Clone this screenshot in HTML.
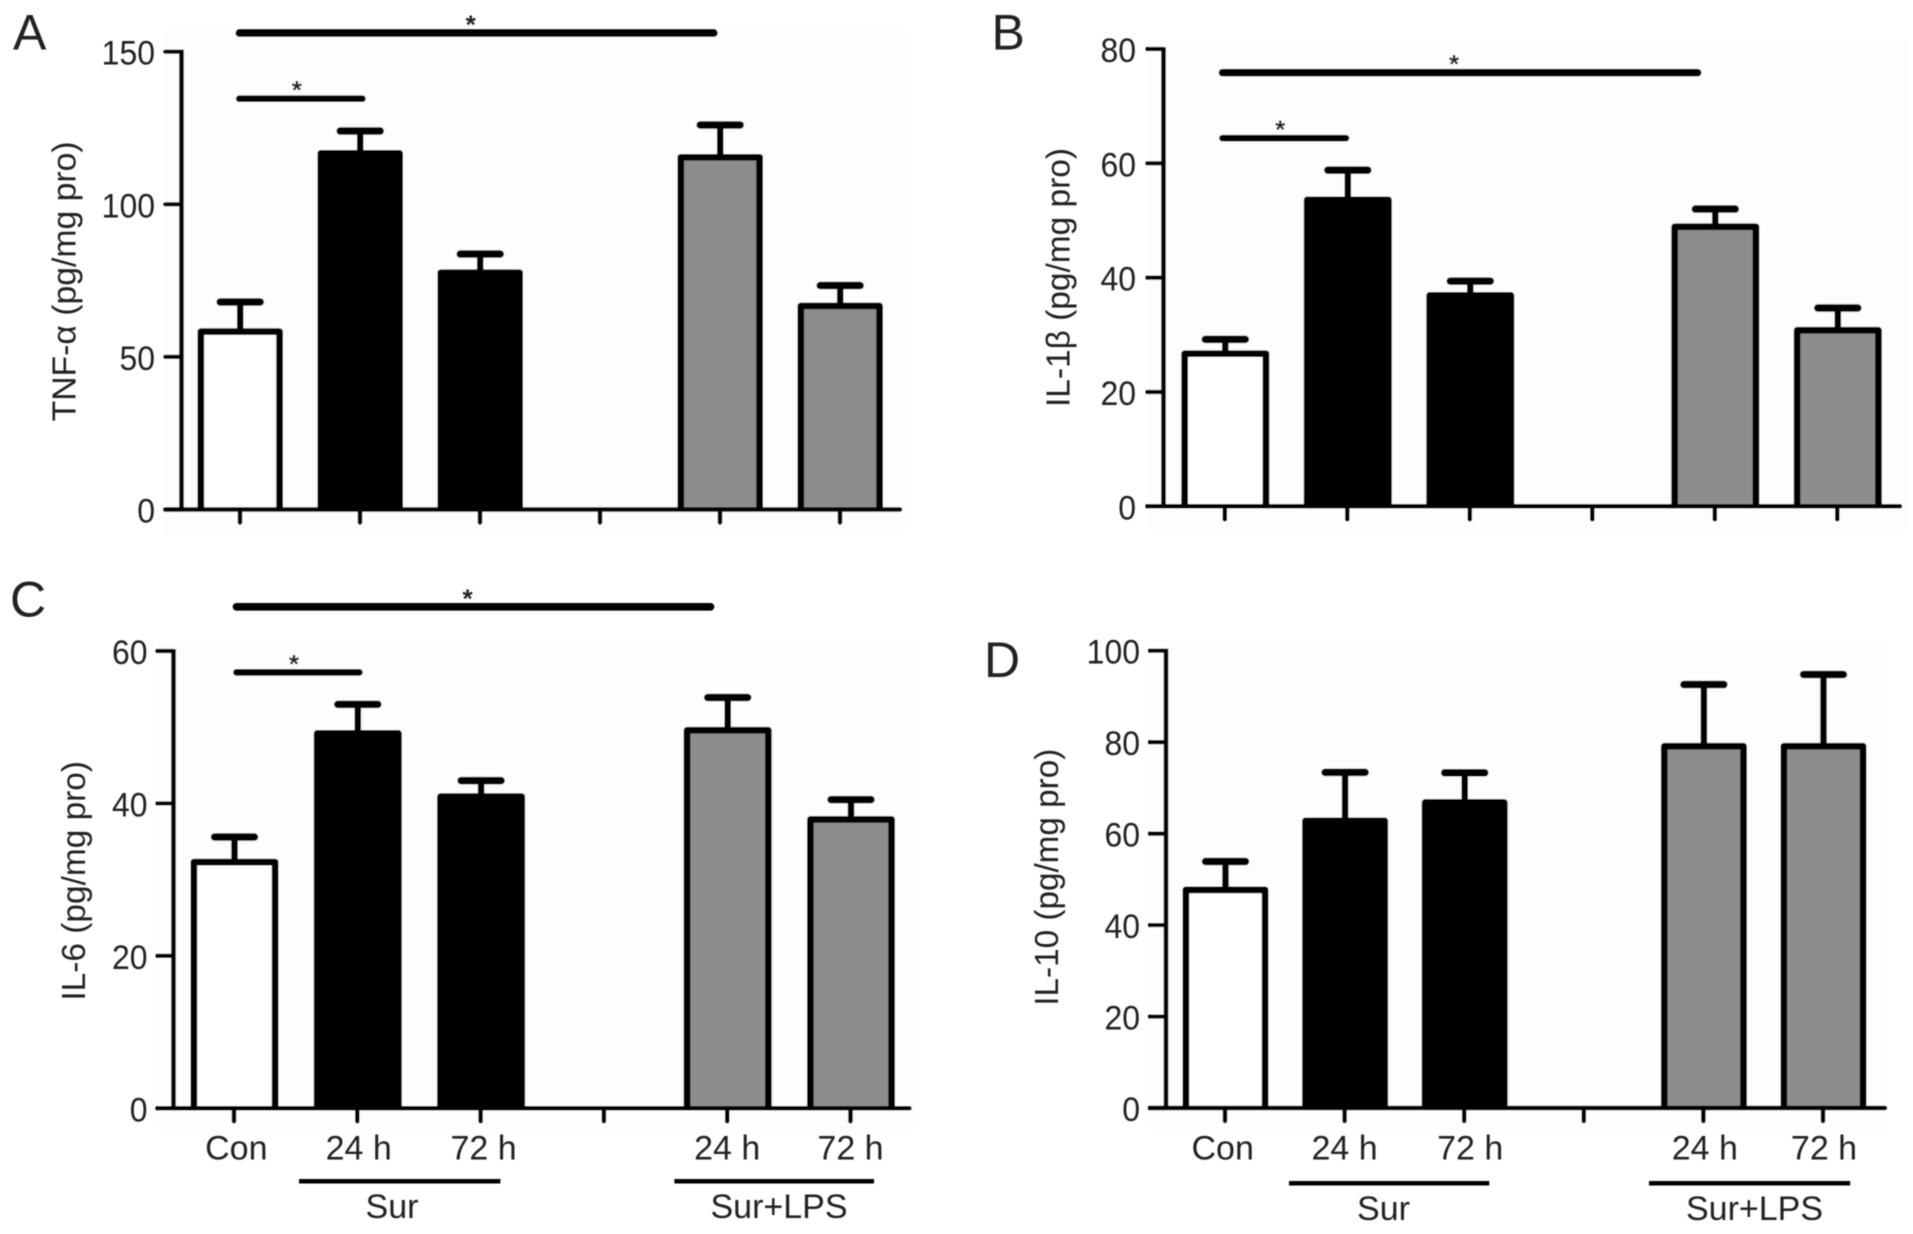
<!DOCTYPE html>
<html lang="en">
<head>
<meta charset="utf-8">
<title>Cytokine levels bar charts</title>
<style>
html,body{margin:0;padding:0;background:#fff;}
svg{display:block;}
text{font-family:"Liberation Sans",sans-serif;fill:#222;}
</style>
</head>
<body>
<svg id="figure" xmlns="http://www.w3.org/2000/svg" width="1913" height="1234" viewBox="0 0 1913 1234">
  <defs><filter id="soft" x="-2%" y="-2%" width="104%" height="104%"><feGaussianBlur stdDeviation="0.6"/></filter></defs>
  <g id="root" filter="url(#soft)"></g>
</svg>
<script>
// ---- shared categories ----
const categories = ['Con', '24 h', '72 h', '', '24 h', '72 h'];
const treatments = ['control', 'sur', 'sur', null, 'lps', 'lps'];

// ---- panel A: TNF-alpha ----
const tnfMeans = [58.3, 116.7, 77.6, null, 115.4, 66.7];
const tnfErrors = [9.7, 7.3, 6.1, null, 10.6, 6.7];
const tnfTicks = [0, 50, 100, 150];
const tnfSigLevels = [134.6, 156.1];
const tnfSigStarts = [-0.006, -0.006];
const tnfSigEnds = [1.02, 3.95];

// ---- panel B: IL-1 beta ----
const il1Means = [26.7, 53.6, 36.9, null, 48.9, 30.8];
const il1Errors = [2.5, 5.2, 2.5, null, 3.1, 3.9];
const il1Ticks = [0, 20, 40, 60, 80];
const il1SigLevels = [64.4, 75.86];
const il1SigStarts = [-0.019, -0.019];
const il1SigEnds = [0.989, 3.86];

// ---- panel C: IL-6 ----
const il6Means = [32.3, 49.2, 40.9, null, 49.6, 37.9];
const il6Errors = [3.3, 3.8, 2.1, null, 4.3, 2.6];
const il6Ticks = [0, 20, 40, 60];
const il6SigLevels = [57.2, 65.8];
const il6SigStarts = [0.02, 0.02];
const il6SigEnds = [1.017, 3.865];

// ---- panel D: IL-10 ----
const il10Means = [47.7, 62.8, 66.8, null, 79.1, 79.1];
const il10Errors = [6.2, 10.6, 6.5, null, 13.5, 15.7];
const il10Ticks = [0, 20, 40, 60, 80, 100];
const il10SigLevels = [];
const il10SigStarts = [];
const il10SigEnds = [];

// ---- rendering ----
const NS = 'http://www.w3.org/2000/svg';
const root = document.getElementById('root');
const fills = { control: '#fff', sur: '#000', lps: '#8d8d8d' };

function make(tag, attrs, parent, txt) {
  const el = document.createElementNS(NS, tag);
  for (const k in attrs) el.setAttribute(k, attrs[k]);
  if (txt !== undefined) el.textContent = txt;
  parent.appendChild(el);
  return el;
}

function drawPanel(p) {
  const g = make('g', {}, root);
  
  

  const y = v => p.y0 - (v / p.yMax) * (p.y0 - p.yTop);
  const x = i => p.x0 + i * p.step;

  const bg = make('rect', { x: p.bg[0], y: p.bg[1], width: p.bg[2], height: p.bg[3], fill: '#fdfdfd' }, g);
  
  

  const letter = make('text', { x: p.letter[0], y: p.letter[1], 'font-size': 50 }, g, p.id);
  
  

  const title = make('text', {
    transform: 'translate(' + p.title[0] + ',' + p.title[1] + ') rotate(-90)',
    'font-size': 33, textLength: p.title[2], lengthAdjust: 'spacingAndGlyphs'
  }, g, p.titleText);
  
  

  // bars and error bars
  p.means.forEach((m, i) => {
    if (m === null) return;
    const cx = x(i) + p.barShift;
    const sw = 6.7;
    const top = y(m);
    const errTop = y(m + p.errors[i]);
    const left = cx - p.barW / 2 + sw / 2;
    const right = cx + p.barW / 2 - sw / 2;

    const stem = make('line', { x1: cx, x2: cx, y1: top, y2: errTop, stroke: '#000', 'stroke-width': 6.5 }, g);
    
    

    const cap = make('line', { x1: cx - 20, x2: cx + 20, y1: errTop, y2: errTop, stroke: '#000', 'stroke-width': 7.5, 'stroke-linecap': 'round' }, g);
    
    

    const bar = make('path', {
      d: 'M' + left + ' ' + p.y0 + 'V' + top + 'H' + right + 'V' + p.y0,
      fill: fills[treatments[i]], stroke: '#000', 'stroke-width': sw, 'stroke-linejoin': 'round'
    }, g);
    
    
  });

  // y axis
  const yAxis = make('line', { x1: p.axisX, x2: p.axisX, y1: p.yTop - 2, y2: p.y0 + 2, stroke: '#000', 'stroke-width': 4.6 }, g);
  
  

  p.ticks.forEach(t => {
    const tick = make('line', { x1: p.axisX - 16, x2: p.axisX, y1: y(t), y2: y(t), stroke: '#000', 'stroke-width': 4.2, 'stroke-linecap': 'round' }, g);
    
    

    const lab = make('text', {
      transform: 'translate(' + (p.axisX - p.labelGap) + ',' + (y(t) + 13) + ') scale(0.94,1)',
      'font-size': 34, 'text-anchor': 'end'
    }, g, String(t));
    
    
  });

  // x axis
  const xAxis = make('line', { x1: p.axisX - 16, x2: p.xEnd, y1: p.y0, y2: p.y0, stroke: '#000', 'stroke-width': 4.5, 'stroke-linecap': 'round' }, g);
  
  

  categories.forEach((c, i) => {
    const tick = make('line', { x1: x(i), x2: x(i), y1: p.y0, y2: p.y0 + 13, stroke: '#000', 'stroke-width': 4.5, 'stroke-linecap': 'round' }, g);
    
    

    if (p.labelNudge && c) {
      const lab = make('text', { x: x(i) + p.labelNudge[i], y: 1159.3, 'font-size': 34, 'text-anchor': 'middle' }, g, c);
      
      
    }
  });

  // significance bars
  p.sigLevels.forEach((lv, k) => {
    const x1 = x(p.sigStarts[k]);
    const x2 = x(p.sigEnds[k]);
    const yy = y(lv);
    const line = make('line', { x1: x1, x2: x2, y1: yy, y2: yy, stroke: '#000', 'stroke-width': k === 0 ? 6.7 : 7.6, 'stroke-linecap': 'round' }, g);
    
    

    const star = make('text', { x: (x1 + x2) / 2 - (k === 0 ? 4 : 6), y: yy + 0.5, 'font-size': 26, 'font-weight': 'bold', 'text-anchor': 'middle' }, g, '*');
    
    
  });

  // group brackets
  p.groups.forEach(gr => {
    const line = make('line', { x1: gr.x1, x2: gr.x2, y1: gr.y, y2: gr.y, stroke: '#000', 'stroke-width': 4.5 }, g);
    
    

    const lab = make('text', { x: gr.cx, y: gr.base, 'font-size': 34, 'text-anchor': 'middle' }, g, gr.label);
    
    
  });
}

drawPanel({
  id: 'A', titleText: 'TNF-\u03b1 (pg/mg pro)', means: tnfMeans, errors: tnfErrors, ticks: tnfTicks,
  sigLevels: tnfSigLevels, sigStarts: tnfSigStarts, sigEnds: tnfSigEnds, yMax: 150, yTop: 51.7, y0: 509.5,
  axisX: 181.5, xEnd: 900, x0: 240, step: 120, barW: 85.5, barShift: 0.2, labelGap: 26.5,
  letter: [13, 49.3], title: [75.5, 421.4, 280], bg: [165, 30, 740, 505], groups: []
});
drawPanel({
  id: 'B', titleText: 'IL-1\u03b2 (pg/mg pro)', means: il1Means, errors: il1Errors, ticks: il1Ticks,
  sigLevels: il1SigLevels, sigStarts: il1SigStarts, sigEnds: il1SigEnds, yMax: 80, yTop: 49, y0: 506.3,
  axisX: 1163.5, xEnd: 1900, x0: 1224.8, step: 122.5, barW: 88, barShift: 0.5, labelGap: 27.5,
  letter: [991.5, 49.3], title: [1069.5, 407, 259], bg: [1148, 40, 760, 490], groups: []
});
drawPanel({
  id: 'C', titleText: 'IL-6 (pg/mg pro)', means: il6Means, errors: il6Errors, ticks: il6Ticks,
  sigLevels: il6SigLevels, sigStarts: il6SigStarts, sigEnds: il6SigEnds, yMax: 60, yTop: 651, y0: 1108.3,
  axisX: 173.5, xEnd: 909.5, x0: 234, step: 123.3, barW: 88, barShift: 0.5, labelGap: 26,
  letter: [10, 616.5], title: [85, 1000.6, 239.6], bg: [158, 640, 755, 490],
  labelNudge: [2.3, 1.4, 3, 0, 0, 0],
  groups: [
    { label: 'Sur', x1: 299, x2: 500.4, y: 1181.3, cx: 392, base: 1218 },
    { label: 'Sur+LPS', x1: 674.4, x2: 874, y: 1181.3, cx: 779, base: 1218 }
  ]
});
drawPanel({
  id: 'D', titleText: 'IL-10 (pg/mg pro)', means: il10Means, errors: il10Errors, ticks: il10Ticks,
  sigLevels: il10SigLevels, sigStarts: il10SigStarts, sigEnds: il10SigEnds, yMax: 100, yTop: 650.7, y0: 1108,
  axisX: 1166, xEnd: 1885, x0: 1225, step: 119.6, barW: 86, barShift: 0.5, labelGap: 26,
  letter: [984, 677], title: [1058, 1005.7, 257], bg: [1151, 640, 737, 490],
  labelNudge: [-2.3, 0, 6, 0, 1.4, 1],
  groups: [
    { label: 'Sur', x1: 1289, x2: 1489.3, y: 1183.3, cx: 1383.5, base: 1220 },
    { label: 'Sur+LPS', x1: 1649, x2: 1850.2, y: 1183.3, cx: 1754.5, base: 1220 }
  ]
});
</script>
</body>
</html>
